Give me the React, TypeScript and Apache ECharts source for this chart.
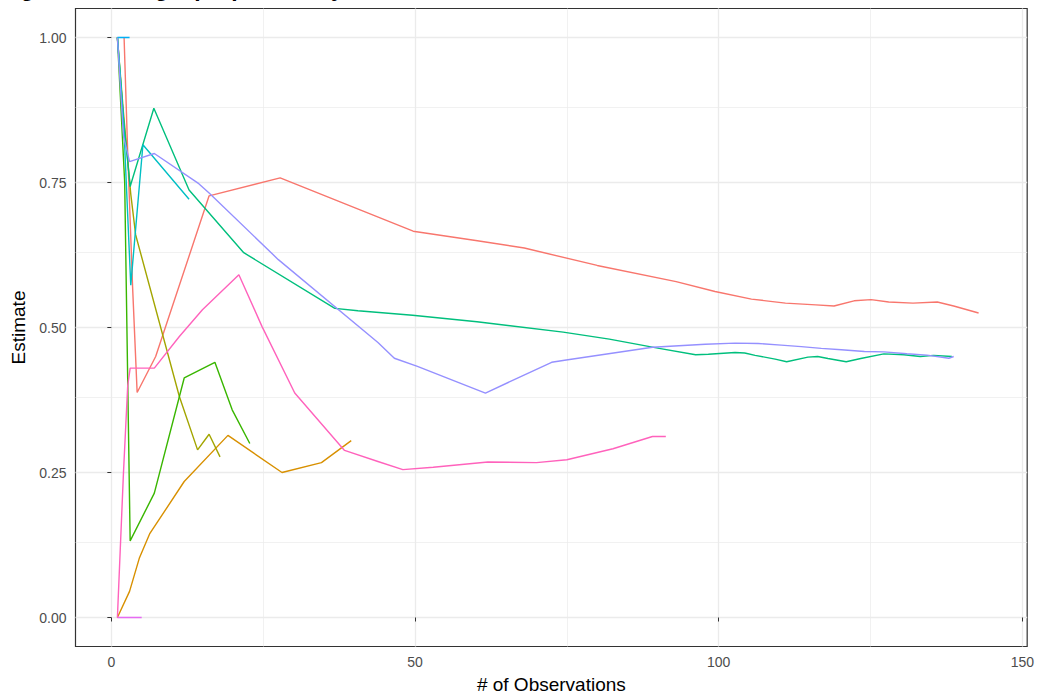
import React, { useEffect, useRef } from "react";
import * as echarts from "echarts";

// Axis breaks (major with labels, minor as grid only)
const xTickValues = [0, 50, 100, 150];
const xMinorValues = [25, 75, 125];
const yTickValues = [0, 0.25, 0.5, 0.75, 1];
const yMinorValues = [0.125, 0.375, 0.625, 0.875];

// Running estimate per site: [number of observations, estimate]
const siteA: [number, number][] = [
  [2.1, 1.0], [2.7, 0.8], [3.5, 0.57], [4.25, 0.388], [7.3, 0.45], [16.1, 0.727],
  [27.8, 0.758], [49.7, 0.666], [60, 0.65], [68, 0.637], [80, 0.607], [93, 0.579],
  [99.4, 0.562], [105.4, 0.549], [111, 0.542], [116, 0.539], [119, 0.537],
  [122.3, 0.546], [125.1, 0.548], [128, 0.544], [132, 0.542], [136, 0.544],
  [138.7, 0.537], [142.8, 0.525],
];
const siteB: [number, number][] = [
  [1, 0], [3, 0.045], [4.6, 0.102], [6.3, 0.144], [12, 0.2345], [19.2, 0.314],
  [28.1, 0.25], [34.6, 0.267], [39.5, 0.305],
];
const siteC: [number, number][] = [
  [1, 1.0], [2, 0.87], [3.2, 0.73], [4, 0.66], [11.2, 0.381], [14.2, 0.289],
  [16.1, 0.316], [17.9, 0.277],
];
const siteD: [number, number][] = [
  [1, 1.0], [2.2, 0.75], [3.1, 0.132], [7.08, 0.2145], [12, 0.413], [17.05, 0.44],
  [19.9, 0.358], [22.8, 0.3],
];
const siteE: [number, number][] = [
  [1, 1.0], [2, 0.86], [3.1, 0.743], [7.0, 0.878], [12.8, 0.737], [21.8, 0.629],
  [36.8, 0.533], [40.6, 0.529], [49.6, 0.521], [60.2, 0.51], [74.4, 0.492],
  [82, 0.48], [90.2, 0.464], [96.2, 0.453], [98.3, 0.454], [102.7, 0.457],
  [104.3, 0.456], [106, 0.452], [109.3, 0.4455], [111.2, 0.441], [114.7, 0.449],
  [116.3, 0.45], [118, 0.4466], [121, 0.441], [123.4, 0.4466], [127.2, 0.4546],
  [130.5, 0.453], [133.2, 0.45], [135.4, 0.452], [138.4, 0.45],
];
const siteF: [number, number][] = [
  [1, 1.0], [2, 0.86], [3.2, 0.573], [5.2, 0.815], [12.8, 0.721],
];
const siteG: [number, number][] = [[1, 1.0], [2, 1.0], [3, 1.0]];
const siteH: [number, number][] = [
  [1, 1.0], [2, 0.83], [3, 0.786], [7.08, 0.8], [14.4, 0.748], [16.1, 0.732],
  [27.5, 0.617], [43.9, 0.474], [46.6, 0.447], [50.4, 0.433], [61.6, 0.387],
  [72.5, 0.44], [74.9, 0.444], [89.1, 0.466], [97.8, 0.471], [102.7, 0.473],
  [106.5, 0.4725], [110.3, 0.4696], [113.6, 0.467], [116.9, 0.464], [120.2, 0.4616],
  [124, 0.4586], [127.2, 0.458], [131, 0.4547], [134.3, 0.4524], [137.9, 0.447],
  [138.7, 0.45],
];
const siteI: [number, number][] = [[1, 0], [2, 0], [3, 0], [4, 0], [5, 0]];
const siteJ: [number, number][] = [
  [1, 0], [2, 0.25], [2.7, 0.4], [3.1, 0.43], [7.08, 0.43], [11.2, 0.4845],
  [15, 0.5305], [21, 0.591], [24.8, 0.502], [30.2, 0.387], [38.4, 0.288],
  [43.9, 0.269], [48, 0.255], [53, 0.259], [62, 0.268], [70, 0.267], [75, 0.272],
  [82.6, 0.291], [89.1, 0.312], [91.3, 0.312],
];

const siteNames = ["A", "B", "C", "D", "E", "F", "G", "H", "I", "J"];
const siteData = [siteA, siteB, siteC, siteD, siteE, siteF, siteG, siteH, siteI, siteJ];
const siteColors = [
  "#F8766D", "#D89000", "#A3A500", "#39B600", "#00BF7D",
  "#00BFC4", "#00B0F6", "#9590FF", "#E76BF3", "#FF62BC",
];

const FONT = "'Liberation Sans', Arial, sans-serif";

export default function App() {
  const ref = useRef<HTMLDivElement>(null);

  useEffect(() => {
    if (!ref.current) return;
    const chart = echarts.init(ref.current, undefined, { renderer: "svg" });

    const gridLine = (w: number) => ({
      width: w,
      color: "#EBEBEB",
      type: "solid" as const,
    });
    const gridMarks = [
      ...xMinorValues.map((v) => ({ xAxis: v, lineStyle: gridLine(0.7) })),
      ...yMinorValues.map((v) => ({ yAxis: v, lineStyle: gridLine(0.7) })),
      ...xTickValues.map((v) => ({ xAxis: v, lineStyle: gridLine(1.3) })),
      ...yTickValues.map((v) => ({ yAxis: v, lineStyle: gridLine(1.3) })),
    ];

    chart.setOption({
      animation: false,
      backgroundColor: "#FFFFFF",
      title: {
        text: "Fig. 4: Tracking a proportion by site",
        left: 0,
        top: -24,
        padding: 0,
        textStyle: { fontFamily: FONT, fontSize: 23, fontWeight: "bold", color: "#000000" },
      },
      grid: {
        left: 75.5,
        right: 3,
        top: 8.5,
        bottom: 52.5,
        show: true,
        backgroundColor: "#FFFFFF",
        borderColor: "#333333",
        borderWidth: 1.2,
      },
      xAxis: {
        type: "value",
        min: -5.9,
        max: 150.8,
        name: "# of Observations",
        nameLocation: "middle",
        nameGap: 28,
        nameTextStyle: { fontFamily: FONT, fontSize: 19, color: "#000000" },
        axisLine: { show: false },
        axisTick: {
          show: true,
          length: 4,
          customValues: xTickValues,
          lineStyle: { color: "#333333", width: 1 },
        },
        axisLabel: {
          customValues: xTickValues,
          margin: 8,
          fontFamily: FONT,
          fontSize: 14,
          color: "#4D4D4D",
          formatter: (v: number) => String(v),
        },
        splitLine: { show: false },
      },
      yAxis: {
        type: "value",
        min: -0.05,
        max: 1.05,
        name: "Estimate",
        nameLocation: "middle",
        nameGap: 42,
        nameTextStyle: { fontFamily: FONT, fontSize: 19, color: "#000000" },
        axisLine: { show: false },
        axisTick: {
          show: true,
          length: 4,
          customValues: yTickValues,
          lineStyle: { color: "#333333", width: 1 },
        },
        axisLabel: {
          customValues: yTickValues,
          margin: 9,
          fontFamily: FONT,
          fontSize: 14,
          color: "#4D4D4D",
          formatter: (v: number) => v.toFixed(2),
        },
        splitLine: { show: false },
      },
      series: [
        {
          // background grid, kept beneath the estimate lines
          type: "line",
          name: "grid",
          data: [],
          z: 0,
          silent: true,
          markLine: {
            z: 0,
            silent: true,
            symbol: ["none", "none"],
            label: { show: false },
            emphasis: { disabled: true },
            data: gridMarks,
          },
        },
        ...siteData.map((d, i) => ({
          type: "line",
          name: siteNames[i],
          data: d,
          z: 3,
          showSymbol: false,
          symbol: "none",
          silent: true,
          lineStyle: { color: siteColors[i], width: 1.4 },
          itemStyle: { color: siteColors[i] },
        })),
      ],
    });

    return () => chart.dispose();
  }, []);

  return (
    <div
      ref={ref}
      style={{ position: "absolute", left: 0, top: 0, width: 1037, height: 699 }}
    />
  );
}
